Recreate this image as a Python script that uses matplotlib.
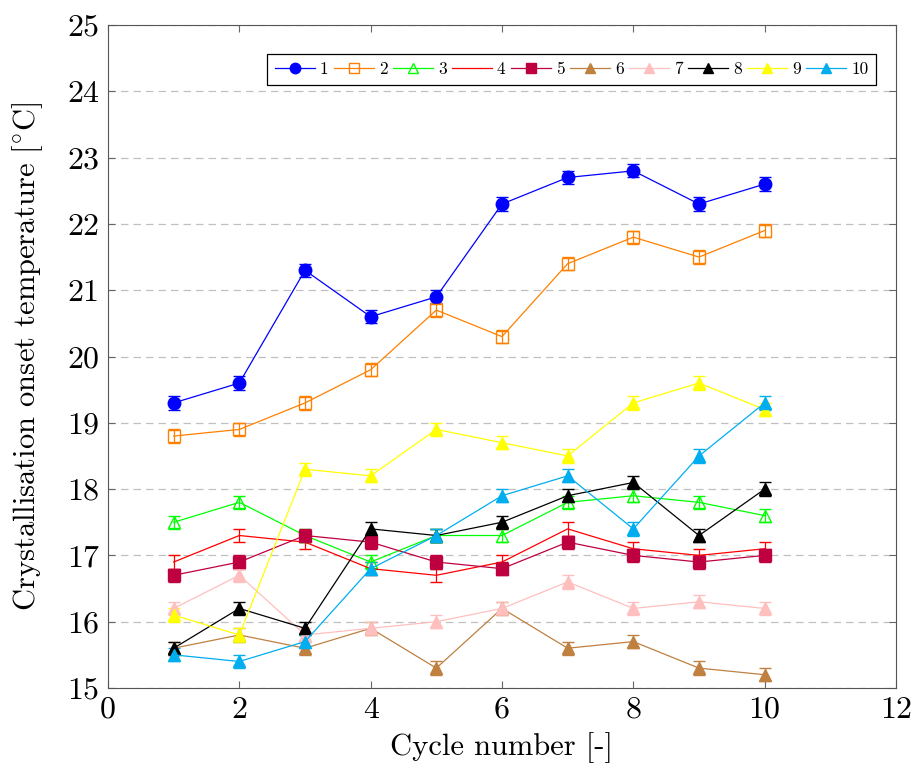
import matplotlib.pyplot as plt
from matplotlib.lines import Line2D

plt.rcParams['font.family'] = ['cmr10', 'DejaVu Serif']
plt.rcParams['mathtext.fontset'] = 'cm'
plt.rcParams['axes.unicode_minus'] = False

cycles = [1, 2, 3, 4, 5, 6, 7, 8, 9, 10]

s1 = [19.3, 19.6, 21.3, 20.6, 20.9, 22.3, 22.7, 22.8, 22.3, 22.6]
s2 = [18.8, 18.9, 19.3, 19.8, 20.7, 20.3, 21.4, 21.8, 21.5, 21.9]
s3 = [17.5, 17.8, 17.3, 16.9, 17.3, 17.3, 17.8, 17.9, 17.8, 17.6]
s4 = [16.9, 17.3, 17.2, 16.8, 16.7, 16.9, 17.4, 17.1, 17.0, 17.1]
s5 = [16.7, 16.9, 17.3, 17.2, 16.9, 16.8, 17.2, 17.0, 16.9, 17.0]
s6 = [15.6, 15.8, 15.6, 15.9, 15.3, 16.2, 15.6, 15.7, 15.3, 15.2]
s7 = [16.2, 16.7, 15.8, 15.9, 16.0, 16.2, 16.6, 16.2, 16.3, 16.2]
s8 = [15.6, 16.2, 15.9, 17.4, 17.3, 17.5, 17.9, 18.1, 17.3, 18.0]
s9 = [16.1, 15.8, 18.3, 18.2, 18.9, 18.7, 18.5, 19.3, 19.6, 19.2]
s10 = [15.5, 15.4, 15.7, 16.8, 17.3, 17.9, 18.2, 17.4, 18.5, 19.3]
err = 0.1

labels = ['1', '2', '3', '4', '5', '6', '7', '8', '9', '10']
series = [s1, s2, s3, s4, s5, s6, s7, s8, s9, s10]
colors = ['#0000ff', '#ff8000', '#00ff00', '#ff0000', '#bf0040',
          '#bf8040', '#ffbfbf', '#000000', '#ffff00', '#00aeef']
markers = ['o', 's', '^', None, 's', '^', '^', '^', '^', '^']
filled = [True, False, False, True, True, True, True, True, True, True]

fig = plt.figure(figsize=(9.14, 7.72), dpi=100)
ax = fig.add_axes([108 / 914, 84 / 772, 788 / 914, 663 / 772])

handles = []
for ys, lab, c, m, f in zip(series, labels, colors, markers, filled):
    ms = 9 if m != 's' else 8.5
    fc = c if f else 'none'
    ax.errorbar(cycles, ys, yerr=err, color=c, lw=0.9, marker=m,
                markersize=ms, markerfacecolor=fc, markeredgecolor=c,
                markeredgewidth=1.0, capsize=4, elinewidth=0.9,
                capthick=0.9, ecolor=c)
    handles.append(Line2D([], [], color=c, lw=0.9, marker=m, markersize=7.5,
                          markerfacecolor=fc, markeredgecolor=c,
                          markeredgewidth=1.0, label=lab))

ax.set_xlim(0, 12)
ax.set_ylim(15, 25)
ax.set_xticks(range(0, 13, 2))
ax.set_yticks(range(15, 26))
ax.yaxis.grid(True, linestyle=(0, (6, 4)), color='#c0c0c0', lw=0.9)
ax.set_axisbelow(True)
ax.tick_params(direction='in', top=True, right=True, labelsize=23,
               length=5, color='#666666', pad=6)
for sp in ax.spines.values():
    sp.set_color('#555555')

ax.set_xlabel('Cycle number [-]', fontsize=22, labelpad=6)
ax.set_ylabel(r'Crystallisation onset temperature [$^{\circ}$C]',
              fontsize=22, labelpad=16)

leg = ax.legend(handles=handles, ncol=10, loc='upper right',
                bbox_to_anchor=(0.986, 0.970),
                fontsize=12.5, handlelength=2.3, columnspacing=0.3,
                handletextpad=0.3, borderpad=0.45, fancybox=False,
                edgecolor='black', framealpha=1)
leg.get_frame().set_linewidth(0.9)

fig.savefig('out.png', dpi=100)
